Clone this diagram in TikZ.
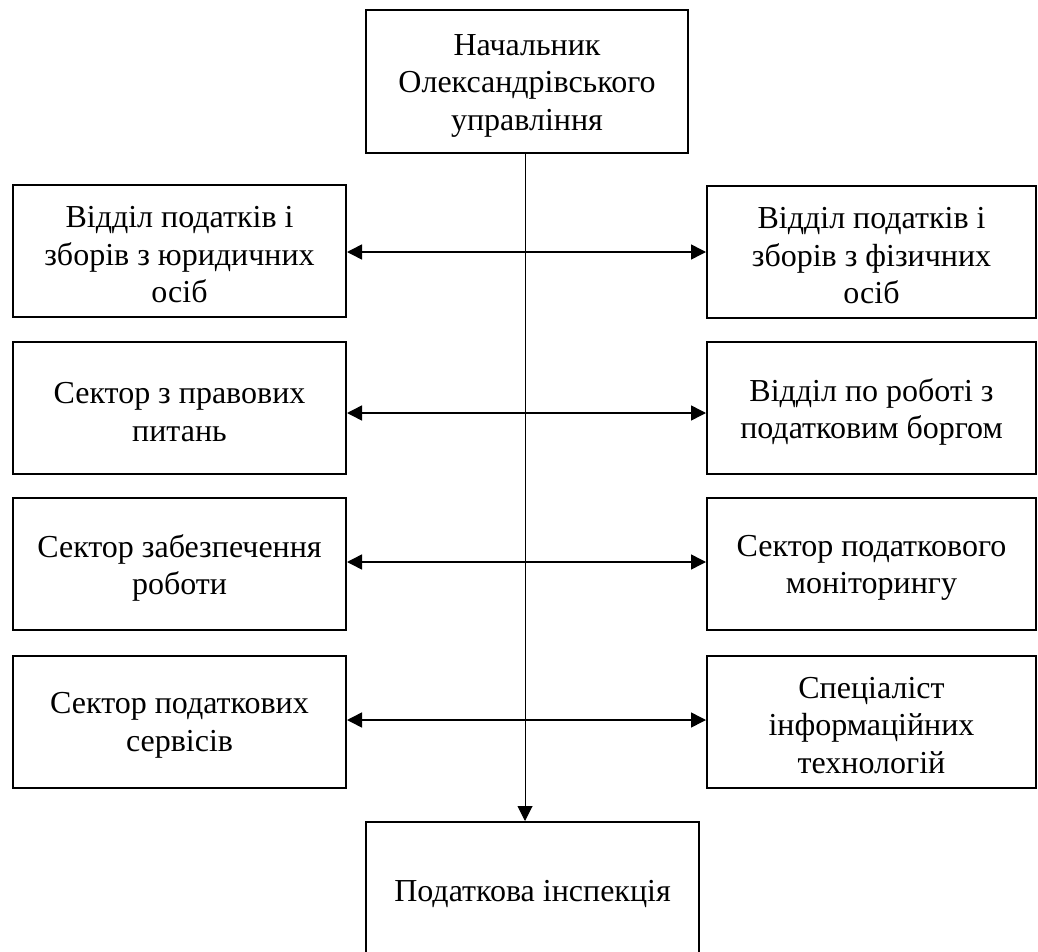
\documentclass[tikz,border=0pt]{standalone}
\usepackage{fontspec}
\setmainfont{Liberation Serif}
\usetikzlibrary{arrows.meta}
\begin{document}
\begin{tikzpicture}[x=1pt,y=-1pt,
  txt/.style={inner sep=0pt,align=center,font=\fontsize{32}{37.5}\selectfont,yshift=-4pt},
  box/.style={draw,line width=2pt,inner sep=0pt,label={[txt]center:#1}},
  lbox/.style={box=#1,minimum width=333pt,minimum height=132pt},
  rbox/.style={box=#1,minimum width=329pt,minimum height=132pt},
  link/.style={line width=1.5pt,{Triangle[length=15pt,width=15pt]}-{Triangle[length=15pt,width=15pt]}},
  vline/.style={line width=1pt,-{Triangle[length=15pt,width=15pt]}}]
\useasboundingbox (0,0) rectangle (1038,952);

\node[box={Начальник\\Олександрівського\\управління},minimum width=322pt,minimum height=143pt] (T) at (527,81.5) {};

\node[lbox={Відділ податків і\\зборів з юридичних\\осіб}] (L1) at (179.5,251) {};
\node[lbox={Сектор з правових\\питань}] (L2) at (179.5,408) {};
\node[lbox={Сектор забезпечення\\роботи}] (L3) at (179.5,564) {};
\node[lbox={Сектор податкових\\сервісів}] (L4) at (179.5,721.5) {};

\node[rbox={Відділ податків і\\зборів з фізичних\\осіб}] (R1) at (871.5,252) {};
\node[rbox={Відділ по роботі з\\податковим боргом}] (R2) at (871.5,408) {};
\node[rbox={Сектор податкового\\моніторингу}] (R3) at (871.5,564) {};
\node[rbox={Спеціаліст\\інформаційних\\технологій}] (R4) at (871.5,721.5) {};

\node[box={Податкова інспекція},minimum width=333pt,minimum height=136pt] (B) at (532.5,890) {};

\coordinate (v) at (525,0);
\coordinate (y1) at (0,252);
\coordinate (y2) at (0,413);
\coordinate (y3) at (0,562);
\coordinate (y4) at (0,720);

\draw[vline] (v |- T.south) -- (v |- B.north);
\draw[link] (L1.east |- y1) -- (R1.west |- y1);
\draw[link] (L2.east |- y2) -- (R2.west |- y2);
\draw[link] (L3.east |- y3) -- (R3.west |- y3);
\draw[link] (L4.east |- y4) -- (R4.west |- y4);
\end{tikzpicture}
\end{document}
